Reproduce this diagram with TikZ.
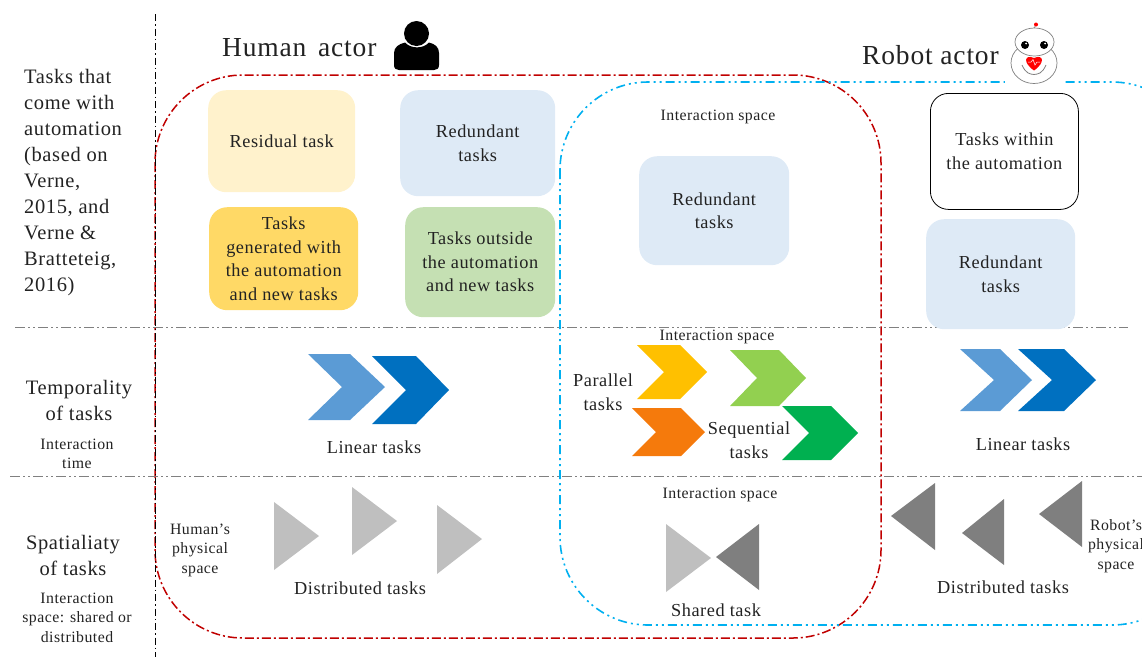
\documentclass[tikz,border=0pt]{standalone}
\usepackage{fontspec}
\setmainfont[LetterSpace=3]{Liberation Serif}
\definecolor{txt}{HTML}{222222}
\definecolor{cyel}{HTML}{FFF2CC}
\definecolor{cgold}{HTML}{FFD966}
\definecolor{cblu}{HTML}{DEEAF6}
\definecolor{cgrn}{HTML}{C5E0B3}
\definecolor{cred}{HTML}{C00000}
\definecolor{ccy}{HTML}{00B0F0}
\definecolor{lb}{HTML}{5B9BD5}
\definecolor{db}{HTML}{0070C0}
\definecolor{lgray}{HTML}{BFBFBF}
\definecolor{dgray}{HTML}{7F7F7F}
\definecolor{g1}{HTML}{92D050}
\definecolor{g2}{HTML}{00B050}
\definecolor{o1}{HTML}{FFC000}
\definecolor{o2}{HTML}{F57A0C}
\tikzset{x=1pt,y=-1pt,
 lab/.style={text=txt,align=center,font=\fontsize{18.3}{23.5}\selectfont,inner sep=0pt},
 sml/.style={text=txt,align=center,font=\fontsize{15.8}{19.5}\selectfont,inner sep=0pt},
 hd/.style={text=txt,font=\fontsize{27.5}{30}\selectfont,inner sep=0pt},
 side/.style={text=txt,align=center,font=\fontsize{20.5}{26}\selectfont,inner sep=0pt},
 box/.style={rounded corners=18pt,inner sep=0pt,align=center,text=txt,font=\fontsize{18.3}{23.5}\selectfont},
 redline/.style={draw=cred,line width=1.5pt,dash pattern=on 9pt off 3pt on 2pt off 3pt},
 cyanline/.style={draw=ccy,line width=1.6pt,dash pattern=on 9pt off 4pt on 2pt off 4pt on 2pt off 4pt},
 grayline/.style={draw=gray,line width=1pt,dash pattern=on 10pt off 3pt on 2pt off 3pt on 2pt off 3pt},
 axis/.style={draw=black,line width=.9pt,dash pattern=on 7pt off 3pt on 1.5pt off 3pt}}
\newcommand{\chev}[7]{\fill[#1] (#2,#4) -- (#3-#7,#4) -- (#3,{(#4+#5)/2}) -- (#3-#7,#5) -- (#2,#5) -- (#2+#6,{(#4+#5)/2}) -- cycle;}
\newcommand{\boxat}[7]{\node[box,fill=#1,minimum width=#4pt-#2pt,minimum height=#5pt-#3pt,anchor=north west] (#7) at (#2,#3) {#6};}
\begin{document}
\begin{tikzpicture}
\useasboundingbox (0,0) rectangle (1142,657);
% frames
\draw[redline,rounded corners=88pt] (155,75) rectangle (881,638);
\begin{scope}
\clip (0,0) rectangle (1142,657);
\draw[cyanline,rounded corners=88pt] (560,82) rectangle (1200,625);
\end{scope}
\draw[axis] (155,14) -- (155,657);
\draw[grayline] (15,327) -- (1128,327);
\draw[grayline] (10,476) -- (1142,476);
% headers
\node[hd,anchor=west] (human) at (222,47.5) {Human\hspace{4pt} actor};
\node[hd,anchor=west] (robot) at (862,55.5) {Robot actor};
% human icon
\fill[black] (416.5,33.5) circle (12.5);
\fill[black] (394,53) .. controls (394,47) and (399,44) .. (405,42.5) .. controls (411,49) and (423,49) .. (429,42.5) .. controls (435,44) and (439,47) .. (439,53) -- (439,65) .. controls (439,68.5) and (437,70) .. (434,70) -- (399,70) .. controls (396,70) and (394,68.5) .. (394,65) -- cycle;
% robot icon
\fill[white] (1005,60) rectangle (1062,90);
\draw[gray,line width=.7pt,fill=white] (1034,63) ellipse (23 and 20.5);
\draw[gray,line width=.7pt,fill=white] (1034.5,42) ellipse (19.5 and 14);
\draw[gray,line width=.6pt] (1034,28) -- (1036,25);
\fill[red] (1036,24.5) circle (2);
\fill[black] (1025,45) circle (4);
\fill[black] (1044,45) circle (4);
\fill[white] (1026,43.5) circle (1);
\fill[white] (1045,43.5) circle (1);
\draw[gray,line width=.8pt] (1022,65) .. controls (1026,74) and (1030,74) .. (1034,74.5) .. controls (1038,74) and (1042,74) .. (1046,65);
\fill[red] (1034,70.5) .. controls (1022,62) and (1025,54) .. (1034,58) .. controls (1043,54) and (1046,62) .. (1034,70.5) -- cycle;
\draw[white,line width=.5pt] (1028,62) -- (1031,62) -- (1033,59.5) -- (1035,65) -- (1037,62) -- (1040,62);
% left column
\node[side,anchor=north west,align=left] (t1) at (24,69) {Tasks that\\come with\\automation\\(based on\\Verne,\\2015, and\\Verne \&\\Bratteteig,\\2016)};
\node[side] (t2) at (79,400) {Temporality\\of  tasks};
\node[sml] (t3) at (77,454) {Interaction\\time};
\node[side] (t4) at (73,555) {Spatialiaty\\of  tasks};
\node[sml] (t5) at (77,617.5) {Interaction\\space: shared or\\distributed};
% boxes
\boxat{cyel}{208}{90}{355}{192}{Residual task}{b1}
\boxat{cblu}{400}{90}{555}{196}{Redundant\\tasks}{b2}
\boxat{cgold}{209}{207}{358}{310}{Tasks\\generated with\\the automation\\and new tasks}{b3}
\boxat{cgrn}{405}{207}{555}{317}{Tasks outside\\the automation\\and new tasks}{b4}
\boxat{cblu}{639}{156}{789}{265}{Redundant\\tasks}{b5}
\node[box,draw=black,line width=.8pt,minimum width=148pt,minimum height=116pt,anchor=north west] (b6) at (930,93) {Tasks within\\the automation};
\boxat{cblu}{926}{219}{1075}{329}{Redundant\\tasks}{b7}
\node[sml] (is1) at (718,117) {Interaction space};
\node[sml] (is2) at (717,336.5) {Interaction space};
\node[sml] (is3) at (720,495) {Interaction space};
% chevrons
\chev{lb}{308}{385}{354}{420}{34}{35}
\chev{db}{372}{449}{356}{424}{34}{33}
\chev{lb}{960}{1032}{349}{411}{34}{32}
\chev{db}{1018}{1096}{349}{411}{34}{32}
\chev{o1}{637}{707}{345}{399}{27}{27}
\chev{o2}{632}{705}{408}{456}{24}{24}
\chev{g1}{730}{806}{350}{406}{27}{27}
\chev{g2}{782}{858}{406}{460}{27}{27}
\node[lab] (par) at (603,392) {Parallel\\tasks};
\node[lab] (seq) at (749,440) {Sequential\\tasks};
\node[lab] (lin1) at (374,447) {Linear tasks};
\node[lab] (lin2) at (1023,444) {Linear tasks};
% triangles
\fill[lgray] (274,502) -- (319,536) -- (274,570) -- cycle;
\fill[lgray] (352,487) -- (397,521) -- (352,555) -- cycle;
\fill[lgray] (437,505) -- (482,539) -- (437,574) -- cycle;
\fill[lgray] (666,524) -- (711,558) -- (666,592) -- cycle;
\fill[dgray] (759,524) -- (716,557) -- (759,590) -- cycle;
\fill[dgray] (935,483) -- (891,516) -- (935,550) -- cycle;
\fill[dgray] (1004,499) -- (962,533) -- (1004,565) -- cycle;
\fill[dgray] (1082,481) -- (1039,514) -- (1082,547) -- cycle;
\node[sml] (hps) at (200,550) {Human's\\physical\\space};
\node[sml] (rps) at (1116,546) {Robot's\\physical\\space};
\node[lab] (d1) at (360,588) {Distributed tasks};
\node[lab] (d2) at (1003,587) {Distributed tasks};
\node[lab] (sh) at (716,610) {Shared task};
\end{tikzpicture}
\end{document}
